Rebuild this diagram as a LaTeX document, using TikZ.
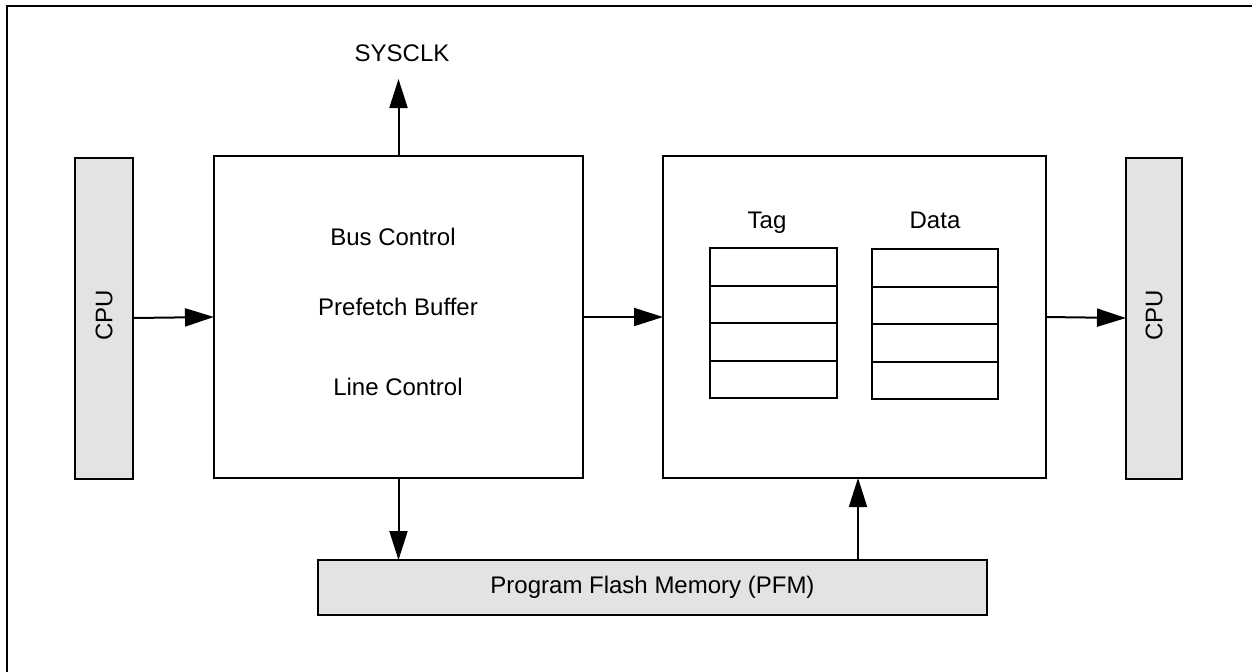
\documentclass[tikz,border=0pt]{standalone}
\usepackage{fontspec}
\setmainfont{Liberation Sans}
\usetikzlibrary{arrows.meta, matrix}

\begin{document}
\begin{tikzpicture}[x=0.5pt, y=-0.5pt,
      font=\fontsize{12}{14}\selectfont,
      blk/.style={draw, line width=1pt, inner sep=0pt, outer sep=0pt},
      grey/.style={blk, fill=black!11},
      arr/.style={line width=1pt, -{Triangle[length=14.5pt, width=9pt]}},
      frame/.style={line width=1.3pt}]
      \useasboundingbox (0,0) rectangle (1252,671);
      \clip (0,0) rectangle (1252,671);
      \draw[frame] (7,6) rectangle (1275,700);
      % CPU on both sides
      \node[grey, minimum width=29pt, minimum height=160.5pt] (cpuL) at (104,318) {};
      \node[rotate=90] at (104,315) {CPU};
      \node[grey, minimum width=28pt, minimum height=160.5pt] (cpuR) at (1154,318) {};
      \node[rotate=90] at (1154,315) {CPU};
      % controller block
      \node[blk, minimum width=184.5pt, minimum height=161pt] (ctrl) at (398.5,317) {};
      \node (bus) at (393,237) {Bus Control};
      \node (pref) at (398,307) {Prefetch Buffer};
      \node (line) at (398,387) {Line Control};
      \node (sysclk) at (402,53) {SYSCLK};
      % cache block
      \node[blk, minimum width=191.5pt, minimum height=161pt] (cache) at (854.5,317) {};
      \node[anchor=base] (tagl) at (767,228) {Tag};
      \node[anchor=base] (datal) at (935,228) {Data};
      \matrix (T)[matrix of nodes, nodes in empty cells,
      nodes={blk, minimum width=63.5pt, minimum height=18.75pt},
      row sep=-1pt] at (773.5,323)
      { {} \\ {} \\ {} \\ {} \\ };
      \matrix (D)[matrix of nodes, nodes in empty cells,
      nodes={blk, minimum width=63pt, minimum height=18.75pt},
      row sep=-1pt] at (935,324)
      { {} \\ {} \\ {} \\ {} \\ };
      % flash
      \node[grey, minimum width=334.5pt, minimum height=27.5pt] (pfm) at (652.5,587.5) {Program Flash Memory (PFM)};
      \coordinate (pfmup) at (858,560);
      % connectors
      \draw[arr] (cpuL.east) -- (ctrl.west);
      \draw[arr] (ctrl.east) -- (cache.west);
      \draw[arr] (cache.east) -- (cpuR.west);
      \draw[arr] (ctrl.north) -- ++(0,-77);
      \draw[arr] (ctrl.south) -- (ctrl.south |- pfm.north);
      \draw[arr] (pfmup) -- (pfmup |- cache.south);
    \end{tikzpicture}
\end{document}
